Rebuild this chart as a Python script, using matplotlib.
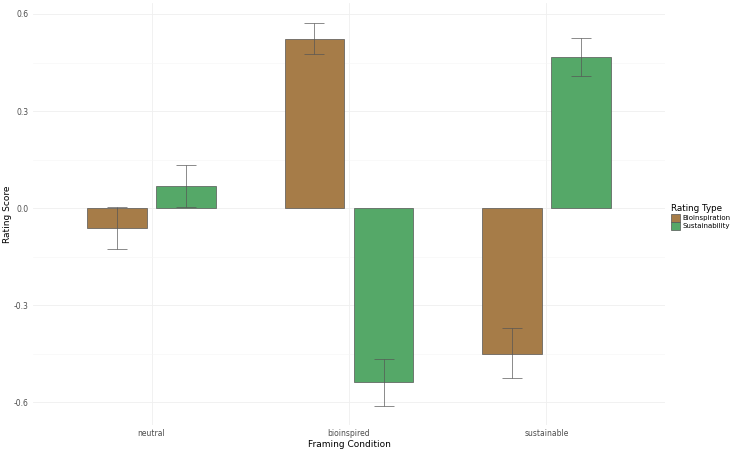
import matplotlib
matplotlib.use("Agg")
import matplotlib.pyplot as plt
import numpy as np
from matplotlib.patches import Patch

conditions = ["neutral", "bioinspired", "sustainable"]
rating_types = ["Bioinspiration", "Sustainability"]
means_bio = [-0.062, 0.523, -0.450]
means_sus = [0.068, -0.539, 0.467]
err_bio_low = [-0.128, 0.475, -0.527]
err_bio_high = [0.004, 0.573, -0.372]
err_sus_low = [0.003, -0.612, 0.408]
err_sus_high = [0.133, -0.466, 0.526]
colors = ["#A67C48", "#55A868"]

fig = plt.figure(figsize=(7.34, 4.49), dpi=100)
ax = fig.add_axes([33/734, 1-425/449, (665-33)/734, (425-3)/449])

x = np.arange(1, len(conditions)+1)
dodge = 0.175
width = 0.3
series = [(means_bio, err_bio_low, err_bio_high), (means_sus, err_sus_low, err_sus_high)]
for i, (m, lo, hi) in enumerate(series):
    xs = x + (-dodge if i == 0 else dodge)
    ax.bar(xs, m, width=width, color=colors[i], edgecolor="#555555", linewidth=0.5, zorder=2)
    m = np.array(m); lo = np.array(lo); hi = np.array(hi)
    ax.errorbar(xs, m, yerr=[m-lo, hi-m], fmt="none", ecolor="#555555", elinewidth=0.6,
                capsize=7.5, capthick=0.6, alpha=0.8, zorder=3)

ax.set_xlim(0.4, 3.6)
ax.set_ylim(-0.671, 0.634)
ax.set_xticks(x)
ax.set_xticklabels(conditions)
ax.set_yticks([-0.6, -0.3, 0.0, 0.3, 0.6])
ax.set_yticklabels(["-0.6", "-0.3", "0.0", "0.3", "0.6"])
ax.set_yticks([-0.45, -0.15, 0.15, 0.45], minor=True)
ax.grid(True, which="major", color="#efefef", linewidth=0.6, zorder=0)
ax.grid(True, which="minor", axis="y", color="#f5f5f5", linewidth=0.4, zorder=0)
ax.set_axisbelow(True)
for s in ax.spines.values():
    s.set_visible(False)
ax.tick_params(axis="both", which="both", length=0, labelsize=5.5, labelcolor="#4d4d4d", pad=3)
ax.set_xlabel("Framing Condition", fontsize=6.5, labelpad=1)
ax.set_ylabel("Rating Score", fontsize=6.5)
ax.yaxis.set_label_coords(-0.034, 0.5)

handles = [Patch(facecolor=colors[i], edgecolor="#555555", linewidth=0.5, label=rating_types[i]) for i in range(2)]
leg = fig.legend(handles=handles, title="Rating Type", loc="center left",
                 bbox_to_anchor=(668/734, 1-217/449), frameon=False, fontsize=5,
                 title_fontsize=6.3, handlelength=1.3, handleheight=1.3, handletextpad=0.4,
                 labelspacing=0.1, borderaxespad=0)
leg._legend_box.align = "left"

fig.savefig("out.png", dpi=100, facecolor="white")
